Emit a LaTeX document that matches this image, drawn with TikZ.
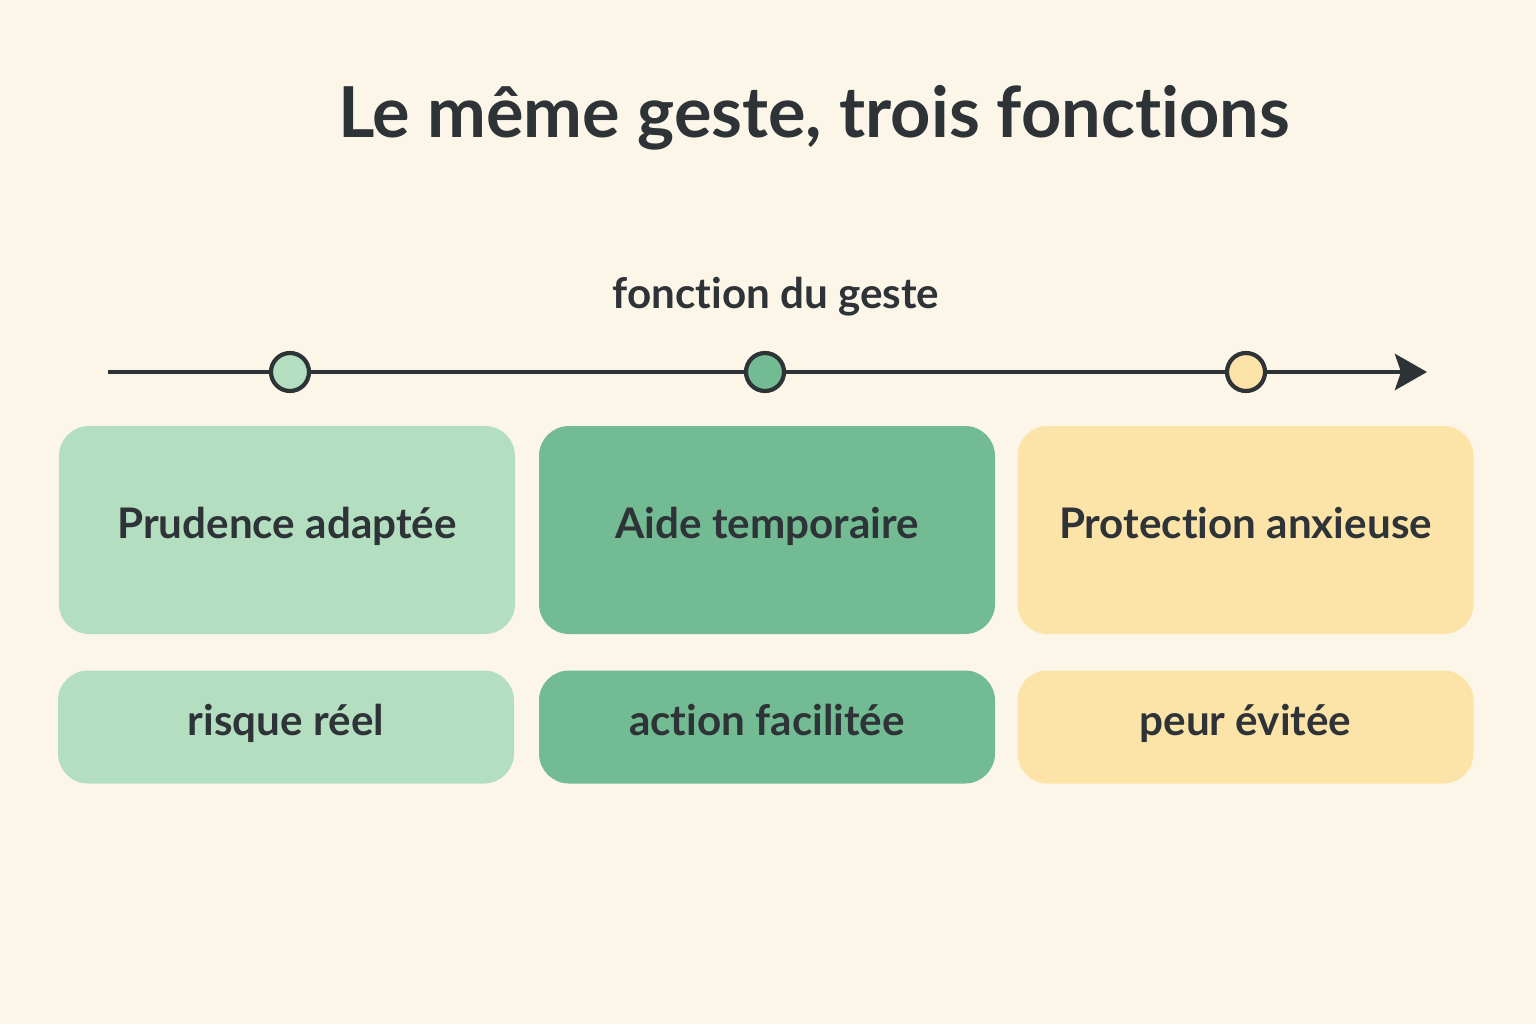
\documentclass[tikz,border=0pt]{standalone}
\usepackage{fontspec}
\setmainfont{Lato}[Ligatures={NoCommon,NoRare}]
\usepackage{tikz}
\usetikzlibrary{arrows.meta}
\definecolor{bg}{HTML}{FCF6E8}
\definecolor{ink}{HTML}{2E3337}
\definecolor{lgreen}{HTML}{B4DEC0}
\definecolor{mgreen}{HTML}{72BB93}
\definecolor{lyellow}{HTML}{FCE4A8}
\tikzset{
  box/.style={rounded corners=0.3cm, minimum width=4.56cm, inner sep=0pt,
              text=ink, font=\fontsize{12}{14}\selectfont\bfseries,
              text height=0.72em, text depth=0.22em},
  dot/.style={circle, draw=ink, line width=1.2pt, minimum size=0.38cm, inner sep=0pt}
}
\begin{document}
\begin{tikzpicture}
        \fill [bg] (0,0) rectangle (15.36,10.24);                                  %
        \node [text=ink, font=\fontsize{20}{24}\selectfont\bfseries]
              (title) at (8.14,9.06) {Le même geste, trois fonctions};             %
        \node [text=ink, font=\fontsize{12}{14}\selectfont\bfseries]
              (axlbl) at (7.76,7.27) {fonction du geste};                          %
        \coordinate (start) at (1.08,6.52);                                        %
        \coordinate (end)   at (14.27,6.52);                                       %
        \draw [ink, line width=1.4pt, -{Stealth[length=3.2mm,width=3.6mm,inset=0.6mm]}]
              (start) -- (end);                                                    %axe
        \node [dot, fill=lgreen]  (d1) at (2.90,6.52)  {};                         %
        \node [dot, fill=mgreen]  (d2) at (7.65,6.52)  {};                         %
        \node [dot, fill=lyellow] (d3) at (12.46,6.52) {};                         %
        \node [box, fill=lgreen,  minimum height=2.08cm] (b1) at (2.87,4.94)  {Prudence adaptée};
        \node [box, fill=mgreen,  minimum height=2.08cm] (b2) at (7.67,4.94)  {Aide temporaire};
        \node [box, fill=lyellow, minimum height=2.08cm] (b3) at (12.455,4.94) {Protection anxieuse};
        \node [box, fill=lgreen,  minimum height=1.13cm] (s1) at (2.86,2.97)  {risque réel};
        \node [box, fill=mgreen,  minimum height=1.13cm] (s2) at (7.67,2.97)  {action facilitée};
        \node [box, fill=lyellow, minimum height=1.13cm] (s3) at (12.455,2.97) {peur évitée};
\end{tikzpicture}
\end{document}
